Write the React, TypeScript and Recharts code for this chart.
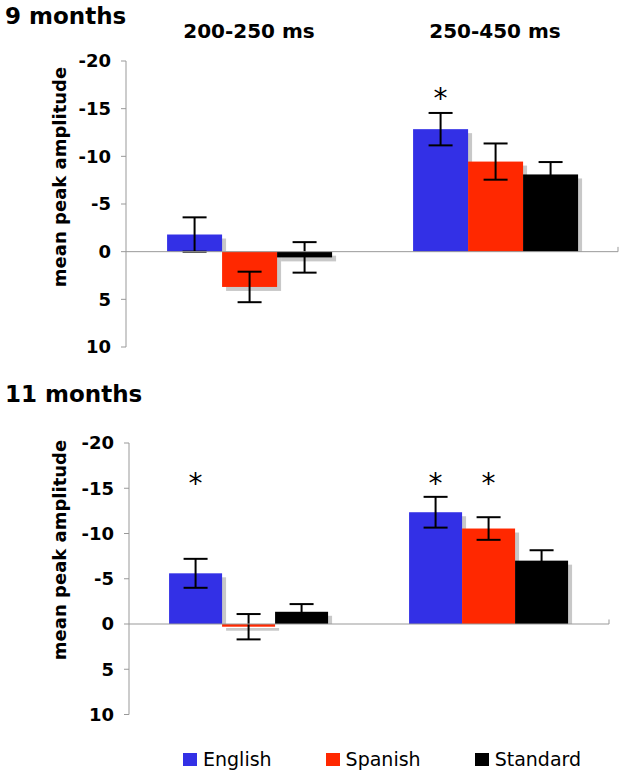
import React from 'react';
import {
  ComposedChart,
  Bar,
  XAxis,
  YAxis,
  ErrorBar,
  LabelList,
  ReferenceLine,
} from 'recharts';

const FONT = '"DejaVu Sans", Verdana, sans-serif';

const CATEGORIES = ['200-250 ms', '250-450 ms'];
const Y_TICKS = [-20, -15, -10, -5, 0, 5, 10];

const SERIES = [
  { key: 'english', name: 'English', color: '#3330E6' },
  { key: 'spanish', name: 'Spanish', color: '#FF2800' },
  { key: 'standard', name: 'Standard', color: '#000000' },
];

// 9 months
const ENGLISH_9 = [-1.8, -12.85];
const ENGLISH_ERR_9 = [1.8, 1.7];
const SPANISH_9 = [3.7, -9.45];
const SPANISH_ERR_9 = [1.6, 1.9];
const STANDARD_9 = [0.6, -8.1];
const STANDARD_ERR_9 = [1.6, 1.3];
const ENGLISH_STAR_9 = [null, -16.7];
const SPANISH_STAR_9 = [null, null];

// 11 months
const ENGLISH_11 = [-5.6, -12.35];
const ENGLISH_ERR_11 = [1.6, 1.7];
const SPANISH_11 = [0.3, -10.55];
const SPANISH_ERR_11 = [1.4, 1.25];
const STANDARD_11 = [-1.35, -7.0];
const STANDARD_ERR_11 = [0.85, 1.15];
const ENGLISH_STAR_11 = [-16.2, -16.2];
const SPANISH_STAR_11 = [null, -16.2];

type Row = Record<string, any>;

const buildRows = (
  english: number[], englishErr: number[],
  spanish: number[], spanishErr: number[],
  standard: number[], standardErr: number[],
  englishStar: (number | null)[], spanishStar: (number | null)[],
): Row[] =>
  CATEGORIES.map((category, i) => ({
    category,
    english: english[i],
    englishErr: englishErr[i],
    englishStar: englishStar[i],
    spanish: spanish[i],
    spanishErr: spanishErr[i],
    spanishStar: spanishStar[i],
    standard: standard[i],
    standardErr: standardErr[i],
    standardStar: null,
  }));

const rows9 = buildRows(ENGLISH_9, ENGLISH_ERR_9, SPANISH_9, SPANISH_ERR_9, STANDARD_9, STANDARD_ERR_9, ENGLISH_STAR_9, SPANISH_STAR_9);
const rows11 = buildRows(ENGLISH_11, ENGLISH_ERR_11, SPANISH_11, SPANISH_ERR_11, STANDARD_11, STANDARD_ERR_11, ENGLISH_STAR_11, SPANISH_STAR_11);

// bar with the grey drop shadow
const shadowShape = (key: string) => (props: any) => {
  const { x, y, width, height, fill, payload } = props;
  const v = payload ? payload[key] : 0;
  const top = Math.min(y, y + height);
  const h = Math.abs(height);
  const up = v < 0;
  return (
    <g>
      <rect x={x + 4} y={top + 4} width={width} height={up ? Math.max(h - 4, 0) : h} fill="#c8c8c8" />
      <rect x={x} y={top} width={width} height={h} fill={fill} />
    </g>
  );
};

// asterisk placed at the star level, using the bar's own pixel scale
const starContent = (key: string, rows: Row[]) => (props: any) => {
  const idx = props.index;
  const row = rows[idx];
  if (!row) return null;
  const level = row[key + 'Star'];
  if (level == null) return null;
  const vb = props.viewBox || props;
  const { x, y, width, height } = vb;
  const v = row[key];
  const top = Math.min(y, y + height);
  const bottom = Math.max(y, y + height);
  const ppu = Math.abs(height) / Math.abs(v);
  const zeroY = v < 0 ? bottom : top;
  const cy = zeroY + level * ppu;
  return (
    <text x={x + width / 2} y={cy + 16} textAnchor="middle" fontSize={28} fontFamily={FONT} fill="#000">
      *
    </text>
  );
};

const AxisTitle = ({ cx, cy }: { cx: number; cy: number }) => (
  <div
    style={{
      position: 'absolute',
      left: cx,
      top: cy,
      transform: 'translate(-50%, -50%) rotate(-90deg)',
      whiteSpace: 'nowrap',
      fontFamily: FONT,
      fontWeight: 'bold',
      fontSize: 18,
      lineHeight: '20px',
      color: '#000',
    }}
  >
    mean peak amplitude
  </div>
);

const PanelTitle = ({ text, top }: { text: string; top: number }) => (
  <div
    style={{
      position: 'absolute',
      left: 5,
      top,
      fontFamily: FONT,
      fontWeight: 'bold',
      fontSize: 23,
      lineHeight: '23px',
      color: '#000',
      whiteSpace: 'nowrap',
    }}
  >
    {text}
  </div>
);

interface PanelProps {
  rows: Row[];
  showCategories: boolean;
  yAxisWidth: number;
  margin: { top: number; right: number; bottom: number; left: number };
}

const Panel: React.FC<PanelProps> = ({ rows, showCategories, yAxisWidth, margin }) => (
  <ComposedChart
    width={624}
    height={360}
    data={rows}
    margin={margin}
    barCategoryGap="16.7%"
    barGap={0}
  >
    <XAxis
      dataKey="category"
      orientation="top"
      hide={!showCategories}
      axisLine={false}
      tickLine={false}
      height={30}
      tickMargin={17}
      interval={0}
      tick={{ fill: '#000', fontSize: 20, fontWeight: 'bold', fontFamily: FONT }}
    />
    <XAxis xAxisId="grid" type="number" domain={[0, 2]} hide />
    <YAxis
      type="number"
      reversed
      domain={[-20, 10]}
      ticks={Y_TICKS}
      interval={0}
      width={yAxisWidth}
      tickSize={5}
      tickMargin={10}
      axisLine={{ stroke: '#999' }}
      tickLine={{ stroke: '#999' }}
      tick={{ fill: '#000', fontSize: 18, fontWeight: 'bold', fontFamily: FONT }}
    />
    {SERIES.map((s) => (
      <Bar
        key={s.key}
        dataKey={s.key}
        name={s.name}
        fill={s.color}
        isAnimationActive={false}
        shape={shadowShape(s.key)}
      >
        <ErrorBar dataKey={s.key + 'Err'} width={12} strokeWidth={2} stroke="#000" isAnimationActive={false} />
        <LabelList dataKey={s.key + 'Star'} content={starContent(s.key, rows)} />
      </Bar>
    ))}
    <ReferenceLine y={0} stroke="#999" strokeWidth={1} />
    <ReferenceLine xAxisId="grid" segment={[{ x: 1, y: 0 }, { x: 1, y: -0.5 }]} stroke="#999" />
    <ReferenceLine xAxisId="grid" segment={[{ x: 2, y: 0 }, { x: 2, y: -0.5 }]} stroke="#999" />
  </ComposedChart>
);

const Legend = () => (
  <div
    style={{
      position: 'absolute',
      left: 183,
      top: 750,
      display: 'flex',
      alignItems: 'center',
      fontFamily: FONT,
      fontSize: 19,
      lineHeight: '19px',
      color: '#000',
      whiteSpace: 'nowrap',
    }}
  >
    {SERIES.map((s) => (
      <div key={s.key} style={{ display: 'flex', alignItems: 'center', marginRight: 54 }}>
        <span style={{ display: 'inline-block', width: 14, height: 13, background: s.color, marginRight: 6 }} />
        <span>{s.name}</span>
      </div>
    ))}
  </div>
);

export default function App() {
  return (
    <div style={{ position: 'absolute', left: 0, top: 0, width: 624, height: 776, background: '#fff', overflow: 'hidden' }}>
      <PanelTitle text="9 months" top={5} />
      <div style={{ position: 'absolute', left: 0, top: 0 }}>
        <Panel rows={rows9} showCategories yAxisWidth={126} margin={{ top: 31, right: 6, bottom: 13, left: 0 }} />
      </div>
      <AxisTitle cx={60} cy={177} />

      <PanelTitle text="11 months" top={383} />
      <div style={{ position: 'absolute', left: 0, top: 370 }}>
        <Panel rows={rows11} showCategories={false} yAxisWidth={129} margin={{ top: 73, right: 15, bottom: 15.5, left: 0 }} />
      </div>
      <AxisTitle cx={60} cy={550} />

      <Legend />
    </div>
  );
}
